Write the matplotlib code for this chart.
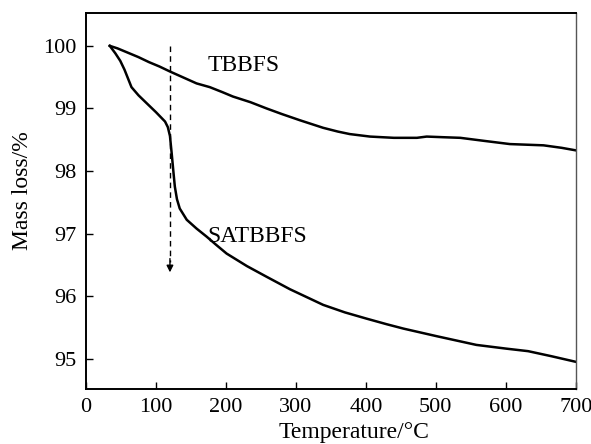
import matplotlib.pyplot as plt

plt.rcParams["font.family"] = ["Liberation Serif", "DejaVu Serif"]

# TBBFS curve
tbbfs_temp = [34, 45, 60, 75, 90, 105, 120, 140, 158, 177, 195, 210, 235,
              258, 280, 306, 339, 360, 377, 406, 440, 473, 487, 510, 535,
              570, 606, 654, 680, 700]
tbbfs_mass = [100.0, 99.96, 99.89, 99.82, 99.74, 99.67, 99.59, 99.49, 99.40,
              99.34, 99.26, 99.19, 99.10, 99.0, 98.91, 98.81, 98.69, 98.63,
              98.59, 98.55, 98.53, 98.53, 98.55, 98.54, 98.53, 98.48, 98.43,
              98.41, 98.37, 98.33]

# SATBBFS curve
sat_temp = [34, 42, 49, 55, 60, 65, 75, 87, 100, 113, 117, 120, 122.5, 125,
            127, 130, 134, 144, 158, 172.5, 186, 201, 230, 258, 291.5, 320,
            339, 370, 401, 430, 454, 501, 558, 601, 632, 665, 700]
sat_mass = [100.0, 99.88, 99.76, 99.62, 99.48, 99.34, 99.21, 99.08, 98.94,
            98.79, 98.70, 98.56, 98.28, 97.98, 97.75, 97.55, 97.40, 97.22,
            97.08, 96.95, 96.82, 96.68, 96.48, 96.31, 96.11, 95.96, 95.86,
            95.74, 95.64, 95.55, 95.48, 95.36, 95.22, 95.16, 95.12, 95.04,
            94.95]

x_ticks = [0, 100, 200, 300, 400, 500, 600, 700]
y_ticks = [95, 96, 97, 98, 99, 100]

fig = plt.figure(figsize=(5.91, 4.44), dpi=100)
ax = fig.add_axes([86 / 591, 1 - 388.7 / 444, (575.7 - 86) / 591, (388.7 - 12.7) / 444])

ax.plot(tbbfs_temp, tbbfs_mass, color="black", lw=1.8)
ax.plot(sat_temp, sat_mass, color="black", lw=1.8)

# dashed arrow marking the sharp drop
ax.plot([120, 120], [100.0, 96.55], color="black", lw=1.0, ls=(0, (4, 3)))
ax.annotate("", xy=(120, 96.38), xytext=(120, 96.6),
            arrowprops=dict(arrowstyle="-|>", color="black", lw=1.0,
                            mutation_scale=10, shrinkA=0, shrinkB=0))

ax.text(174, 99.68, "TBBFS", fontsize=17, va="center", ha="left")
ax.text(174, 96.96, "SATBBFS", fontsize=17, va="center", ha="left")

ax.set_xlim(0, 700)
ax.set_ylim(94.52, 100.53)
ax.set_xticks(x_ticks)
ax.set_yticks(y_ticks)
ax.tick_params(direction="in", length=5, width=1, labelsize=16, pad=7,
               top=False, right=False)

for side in ["top", "bottom", "left"]:
    ax.spines[side].set_linewidth(1.4)
ax.spines["right"].set_linewidth(1.0)
ax.spines["right"].set_color("#555555")

ax.set_xlabel("Temperature/°C", fontsize=17)
ax.set_ylabel("Mass loss/%", fontsize=17)
ax.xaxis.set_label_coords(0.547, -0.088)
ax.yaxis.set_label_coords(-0.108, 0.528)

fig.savefig("out.png", dpi=100)
